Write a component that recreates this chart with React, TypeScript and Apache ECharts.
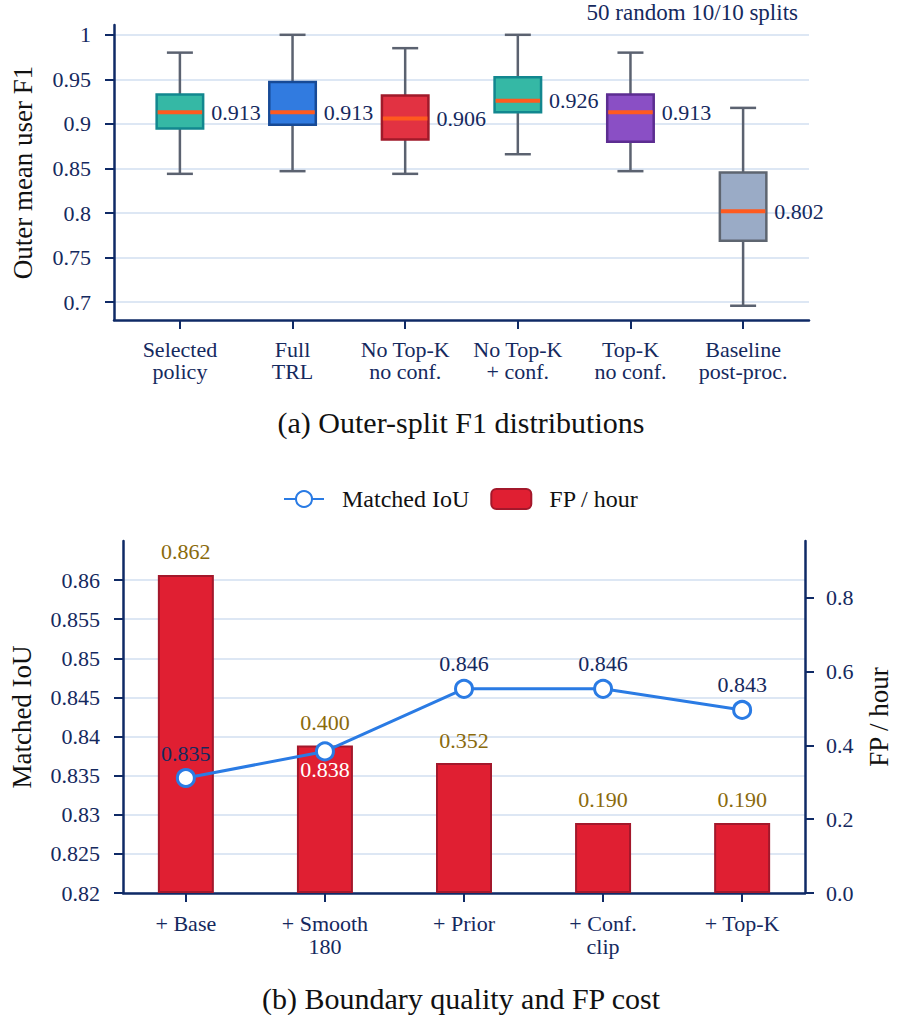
import React, { useEffect, useRef } from "react";
import * as echarts from "echarts";

// ---- panel (a): outer-split F1 boxes ----
const boxCategories = [
  "Selected\npolicy",
  "Full\nTRL",
  "No Top-K\nno conf.",
  "No Top-K\n+ conf.",
  "Top-K\nno conf.",
  "Baseline\npost-proc.",
];
const whiskerLow = [0.844, 0.847, 0.844, 0.866, 0.847, 0.696];
const quartile1 = [0.895, 0.899, 0.8825, 0.913, 0.88, 0.769];
const medians = [0.913, 0.913, 0.906, 0.926, 0.913, 0.802];
const quartile3 = [0.933, 0.947, 0.932, 0.9525, 0.933, 0.8455];
const whiskerHigh = [0.98, 1.0, 0.985, 1.0, 0.98, 0.918];
const boxFills = ["#35b8a5", "#317be0", "#e23242", "#35b8a5", "#8a4fc5", "#9aabc6"];
const boxBorders = ["#12878f", "#174a96", "#a01a2a", "#12878f", "#5c2d91", "#5e6570"];
const f1Ticks = [0.7, 0.75, 0.8, 0.85, 0.9, 0.95, 1];

// ---- panel (b): boundary quality and FP cost ----
const stepCategories = ["+ Base", "+ Smooth\n180", "+ Prior", "+ Conf.\nclip", "+ Top-K"];
const matchedIoU = [0.8347, 0.8381, 0.8461, 0.8461, 0.8434];
const fpPerHour = [0.862, 0.4, 0.352, 0.19, 0.19];
const iouTicks = [0.82, 0.825, 0.83, 0.835, 0.84, 0.845, 0.85, 0.855, 0.86];
const fpTicks = [0, 0.2, 0.4, 0.6, 0.8];

const SERIF = "Liberation Serif, Tinos, Times New Roman, Times, serif";
const NAVY = "#15295e";
const AXIS = "#0f2a66";
const GRID = "#d2dff0";
const WHISKER = "#5b6270";

const axisLineStyle = { show: true, onZero: false, lineStyle: { color: AXIS, width: 2.5 } };
const tickStyle = { length: 9, lineStyle: { color: AXIS, width: 2 } };
const labelFont = { fontSize: 22, color: NAVY, fontFamily: SERIF };
const nameFont = { fontSize: 27, color: "#111", fontFamily: SERIF };

const App: React.FC = () => {
  const chartRef = useRef<HTMLDivElement>(null);

  useEffect(() => {
    document.body.style.margin = "0";
    if (!chartRef.current) return;
    const chart = echarts.init(chartRef.current, undefined, { renderer: "svg" });

    const boxIdx = boxCategories.map((_, i) => i);
    const stepIdx = stepCategories.map((_, i) => i);

    // box + whiskers + median + value label, placed with the axes' own scales
    const renderBox = (params: any, api: any) => {
      const i = params.dataIndex;
      const x = api.value(0);
      const lo = api.coord([x, api.value(1)]);
      const q1 = api.coord([x, api.value(2)]);
      const med = api.coord([x, api.value(3)]);
      const q3 = api.coord([x, api.value(4)]);
      const hi = api.coord([x, api.value(5)]);
      const cx = lo[0];
      const bw = 46.5;
      const cap = 13;
      const whisk = { stroke: WHISKER, lineWidth: 2.5 };
      return {
        type: "group",
        children: [
          { type: "line", shape: { x1: cx, y1: hi[1], x2: cx, y2: q3[1] }, style: whisk },
          { type: "line", shape: { x1: cx, y1: q1[1], x2: cx, y2: lo[1] }, style: whisk },
          { type: "line", shape: { x1: cx - cap, y1: hi[1], x2: cx + cap, y2: hi[1] }, style: whisk },
          { type: "line", shape: { x1: cx - cap, y1: lo[1], x2: cx + cap, y2: lo[1] }, style: whisk },
          {
            type: "rect",
            shape: { x: cx - bw / 2, y: q3[1], width: bw, height: q1[1] - q3[1] },
            style: { fill: boxFills[i], stroke: boxBorders[i], lineWidth: 2.5 },
          },
          {
            type: "line",
            shape: { x1: cx - bw / 2 + 1, y1: med[1], x2: cx + bw / 2 - 1, y2: med[1] },
            style: { stroke: "#ff5a1f", lineWidth: 4 },
          },
          {
            type: "text",
            x: cx + bw / 2 + 8,
            y: med[1],
            style: {
              text: api.value(3).toFixed(3),
              fill: NAVY,
              fontSize: 22,
              fontFamily: SERIF,
              align: "left",
              verticalAlign: "middle",
            },
          },
        ],
      };
    };

    chart.setOption({
      animation: false,
      legend: {
        top: 482,
        left: 278,
        itemWidth: 40,
        itemHeight: 20,
        itemGap: 21,
        data: ["Matched IoU", "FP / hour"],
        textStyle: { fontSize: 24, color: "#111", fontFamily: SERIF, padding: [0, 0, 0, 13] },
      },
      grid: [
        { left: 114, top: 25, width: 695, height: 295 },
        { left: 114, top: 541, width: 695, height: 352 },
      ],
      xAxis: [
        {
          gridIndex: 0,
          type: "value",
          min: -0.585,
          max: 5.585,
          axisLine: axisLineStyle,
          axisTick: { ...tickStyle, customValues: boxIdx },
          axisLabel: {
            ...labelFont,
            customValues: boxIdx,
            lineHeight: 22,
            margin: 18,
            formatter: (v: number) => boxCategories[Math.round(v)] ?? "",
          },
          splitLine: { show: false },
        },
        {
          gridIndex: 1,
          type: "value",
          min: -0.452,
          max: 4.452,
          axisLine: axisLineStyle,
          axisTick: { ...tickStyle, customValues: stepIdx },
          axisLabel: {
            ...labelFont,
            customValues: stepIdx,
            lineHeight: 23,
            margin: 19,
            formatter: (v: number) => stepCategories[Math.round(v)] ?? "",
          },
          splitLine: { show: false },
        },
      ],
      yAxis: [
        {
          gridIndex: 0,
          type: "value",
          min: 0.68,
          max: 1.011,
          name: "Outer mean user F1",
          nameLocation: "middle",
          nameGap: 78,
          nameTextStyle: nameFont,
          axisLine: axisLineStyle,
          axisTick: { show: true, ...tickStyle, customValues: f1Ticks },
          axisLabel: {
            ...labelFont,
            customValues: f1Ticks,
            margin: 23,
            formatter: (v: number) => String(+v.toFixed(2)),
          },
          splitLine: { show: true, lineStyle: { color: GRID, width: 1.5 } },
        },
        {
          gridIndex: 1,
          type: "value",
          min: 0.82,
          max: 0.865,
          name: "Matched IoU",
          nameLocation: "middle",
          nameGap: 88,
          nameTextStyle: nameFont,
          axisLine: axisLineStyle,
          axisTick: { show: true, ...tickStyle, customValues: iouTicks },
          axisLabel: {
            ...labelFont,
            customValues: iouTicks,
            margin: 23,
            formatter: (v: number) => String(+v.toFixed(3)),
          },
          splitLine: { show: true, lineStyle: { color: GRID, width: 1.5 } },
        },
        {
          gridIndex: 1,
          type: "value",
          position: "right",
          min: 0,
          max: 0.954,
          name: "FP / hour",
          nameLocation: "middle",
          nameGap: 60,
          nameTextStyle: nameFont,
          axisLine: axisLineStyle,
          axisTick: { show: true, ...tickStyle, customValues: fpTicks },
          axisLabel: {
            ...labelFont,
            customValues: fpTicks,
            margin: 21,
            formatter: (v: number) => v.toFixed(1),
          },
          splitLine: { show: false },
        },
      ],
      graphic: [
        {
          type: "text",
          x: 798,
          y: 12,
          style: {
            text: "50 random 10/10 splits",
            fill: NAVY,
            fontSize: 23,
            fontFamily: SERIF,
            align: "right",
            verticalAlign: "middle",
          },
        },
        {
          type: "text",
          x: 461,
          y: 422,
          style: {
            text: "(a) Outer-split F1 distributions",
            fill: "#111",
            fontSize: 30,
            fontFamily: SERIF,
            align: "center",
            verticalAlign: "middle",
          },
        },
        {
          type: "text",
          x: 461,
          y: 998,
          style: {
            text: "(b) Boundary quality and FP cost",
            fill: "#111",
            fontSize: 30,
            fontFamily: SERIF,
            align: "center",
            verticalAlign: "middle",
          },
        },
      ],
      series: [
        {
          type: "custom",
          xAxisIndex: 0,
          yAxisIndex: 0,
          encode: { x: 0, y: [1, 2, 3, 4, 5] },
          data: boxCategories.map((_, i) => [
            i,
            whiskerLow[i],
            quartile1[i],
            medians[i],
            quartile3[i],
            whiskerHigh[i],
          ]),
          renderItem: renderBox,
        },
        {
          name: "FP / hour",
          type: "bar",
          xAxisIndex: 1,
          yAxisIndex: 2,
          barWidth: 56,
          data: fpPerHour.map((v, i) => [i, v]),
          itemStyle: { color: "#e01f32", borderColor: "#a3182b", borderWidth: 2 },
          label: {
            show: true,
            position: "top",
            distance: 12,
            color: "#8a6a0c",
            fontSize: 22,
            fontFamily: SERIF,
            formatter: (p: any) => p.value[1].toFixed(3),
          },
        },
        {
          name: "Matched IoU",
          type: "line",
          xAxisIndex: 1,
          yAxisIndex: 1,
          z: 5,
          color: "#2a7be4",
          symbol: "circle",
          symbolSize: 17,
          data: matchedIoU.map((v, i) =>
            i === 1
              ? { value: [i, v], label: { position: "bottom", distance: 0, offset: [0, -3], color: "#fff" } }
              : { value: [i, v] }
          ),
          lineStyle: { color: "#2a7be4", width: 3 },
          itemStyle: { color: "#fff", borderColor: "#2a7be4", borderWidth: 3 },
          label: {
            show: true,
            position: "top",
            distance: 4,
            color: NAVY,
            fontSize: 22,
            fontFamily: SERIF,
            formatter: (p: any) => p.value[1].toFixed(3),
          },
        },
      ],
    });

    return () => {
      chart.dispose();
    };
  }, []);

  return <div ref={chartRef} style={{ width: 900, height: 1015 }} />;
};

export default App;
